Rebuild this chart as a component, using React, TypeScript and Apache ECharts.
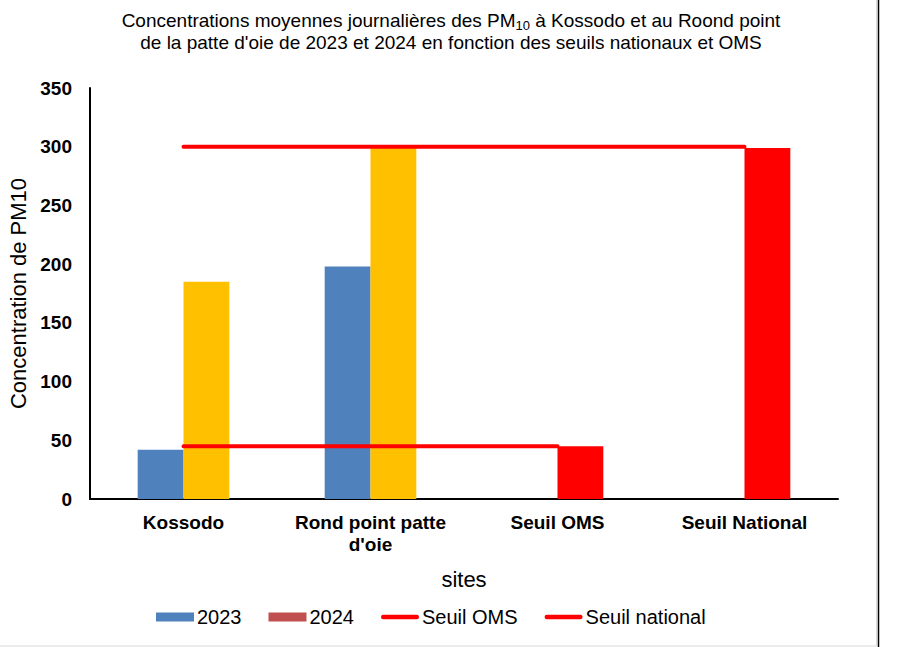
import React, { useEffect, useRef } from "react";
import * as echarts from "echarts";

const categories = ["Kossodo", "Rond point patte\nd'oie", "Seuil OMS", "Seuil National"];
const values2023: (number | null)[] = [42, 198, null, null];
const values2024: (number | null)[] = [185, 300, 45, 299];
const colors2024 = ["#FFC000", "#FFC000", "#FF0000", "#FF0000"];
const seuilOMS: (number | null)[] = [45, 45, 45, null];
const seuilNational: (number | null)[] = [300, 300, 300, 300];
const yTicks = { min: 0, max: 350, interval: 50 };

const lineIcon = "path://M2.5,0 L40.5,0 A2.5,2.5 0 0 1 40.5,5 L2.5,5 A2.5,2.5 0 0 1 2.5,0 Z";

export default function App() {
  const ref = useRef<HTMLDivElement>(null);
  useEffect(() => {
    document.body.style.margin = "0";
    const chart = echarts.init(ref.current!, null, { renderer: "svg" });
    const font = "Arial, 'Liberation Sans', sans-serif";
    chart.setOption({
      animation: false,
      backgroundColor: "#ffffff",
      textStyle: { fontFamily: font },
      title: {
        text:
          "{a|Concentrations moyennes journalières des PM}{sub|10}{a| à Kossodo et au Roond point}\n{a|de la patte d'oie de 2023 et 2024 en fonction des seuils nationaux et OMS}",
        left: 446,
        textAlign: "center",
        top: 4,
        textStyle: {
          fontWeight: "normal",
          rich: {
            a: { fontSize: 19, fontFamily: font, fontWeight: "normal", color: "#000", lineHeight: 22 },
            sub: { fontSize: 13, fontFamily: font, fontWeight: "normal", color: "#000", lineHeight: 22, padding: [10, 0, 0, 0] },
          },
        },
      },
      grid: { left: 90, right: 59, top: 88, bottom: 148, containLabel: false, outerBoundsMode: "none" },
      legend: {
        left: 151,
        top: 602,
        itemWidth: 38,
        itemHeight: 9,
        itemGap: 27,
        textStyle: { fontSize: 20, color: "#000", fontFamily: font, padding: [0, 0, 0, -2] },
        data: [
          { name: "2023", icon: "rect" },
          { name: "2024", icon: "rect", itemStyle: { color: "#C0504D" } },
          { name: "Seuil OMS", icon: lineIcon, itemStyle: { color: "#FF0000" } },
          { name: "Seuil national", icon: lineIcon, itemStyle: { color: "#FF0000" } },
        ],
      },
      xAxis: {
        type: "category",
        data: categories,
        name: "sites",
        nameLocation: "middle",
        nameGap: 69,
        nameTextStyle: { fontSize: 22, color: "#000", fontFamily: font },
        axisLine: { lineStyle: { color: "#000", width: 2 } },
        axisTick: { show: false },
        axisLabel: {
          fontSize: 19,
          fontWeight: "bold",
          color: "#000",
          fontFamily: font,
          margin: 12,
          lineHeight: 22,
          interval: 0,
        },
      },
      yAxis: {
        type: "value",
        min: yTicks.min,
        max: yTicks.max,
        interval: yTicks.interval,
        name: "Concentration de PM10",
        nameLocation: "middle",
        nameGap: 60,
        nameTextStyle: { fontSize: 22, color: "#000", fontFamily: font },
        axisLine: { show: true, lineStyle: { color: "#000", width: 2 } },
        axisTick: { show: false },
        splitLine: { show: false },
        axisLabel: { fontSize: 19, fontWeight: "bold", color: "#000", fontFamily: font, margin: 18 },
      },
      series: [
        {
          name: "2023",
          type: "bar",
          data: values2023,
          itemStyle: { color: "#4F81BD" },
          barGap: "0%",
          barCategoryGap: "51%",
        },
        {
          name: "2024",
          type: "bar",
          data: values2024.map((v, i) => ({ value: v, itemStyle: { color: colors2024[i] } })),
          itemStyle: { color: "#C0504D" },
          barGap: "0%",
          barCategoryGap: "51%",
        },
        {
          name: "Seuil OMS",
          type: "line",
          data: seuilOMS,
          symbol: "none",
          lineStyle: { color: "#FF0000", width: 4, cap: "round" },
          itemStyle: { color: "#FF0000" },
          z: 5,
        },
        {
          name: "Seuil national",
          type: "line",
          data: seuilNational,
          symbol: "none",
          lineStyle: { color: "#FF0000", width: 4, cap: "round" },
          itemStyle: { color: "#FF0000" },
          z: 5,
        },
      ],
      graphic: [
        { type: "line", shape: { x1: 876.5, y1: 0, x2: 876.5, y2: 646 }, style: { stroke: "#d9d9d9", lineWidth: 1 } },
        { type: "line", shape: { x1: 0, y1: 646, x2: 876.5, y2: 646 }, style: { stroke: "#d9d9d9", lineWidth: 1 } },
        { type: "line", shape: { x1: 878.5, y1: 0, x2: 878.5, y2: 647 }, style: { stroke: "#000", lineWidth: 1.5 } },
      ],
    });
    return () => chart.dispose();
  }, []);
  return <div ref={ref} style={{ width: 897, height: 647 }} />;
}
